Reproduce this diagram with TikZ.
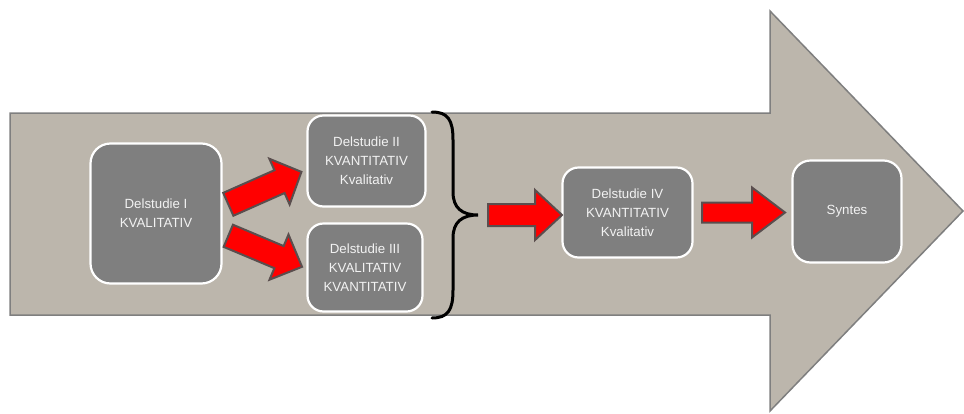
\documentclass[tikz,border=0pt]{standalone}
\usepackage{fontspec}
\setmainfont{Liberation Sans}
\definecolor{bigfill}{HTML}{BCB6AC}
\definecolor{bigedge}{HTML}{7F7F7F}
\definecolor{boxgray}{HTML}{7F7F7F}
\definecolor{boxtext}{HTML}{F2F2F2}
\definecolor{arrowedge}{HTML}{5A4E4E}
\newcommand{\blockarrow}[7]{%
  \begin{scope}[shift={(#1,#2)}, rotate=#3]
    \draw[redarr] (0,-#5/2) -- (#4-#7,-#5/2) -- (#4-#7,-#6/2) -- (#4,0)
      -- (#4-#7,#6/2) -- (#4-#7,#5/2) -- (0,#5/2) -- cycle;
  \end{scope}}
\begin{document}
\begin{tikzpicture}[x=1pt,y=-1pt,
  box/.style={draw=white, line width=2.2pt, fill=boxgray, rounded corners=16pt,
    text=boxtext, align=center, font=\fontsize{13.3}{19}\selectfont, inner sep=0pt},
  redarr/.style={fill=red, draw=arrowedge, line width=2pt, line join=miter},
  bigarrow/.style={fill=bigfill, draw=bigedge, line width=1.5pt, line join=miter},
  bracestyle/.style={draw=black, line width=3pt, line cap=round}]
\useasboundingbox (0,0) rectangle (964,413);
% large background arrow
\path[bigarrow] (10,113) -- (770,113) -- (770,11) -- (963,211) -- (770,411)
  -- (770,315) -- (10,315) -- cycle;
% boxes
\node[box, minimum width=131pt, minimum height=140pt, rounded corners=20pt] (d1) at (156,213.5) {Delstudie I\\KVALITATIV};
\node[box, minimum width=118pt, minimum height=91pt] (d2) at (366.5,161) {Delstudie II\\KVANTITATIV\\Kvalitativ};
\node[box, minimum width=115pt, minimum height=88pt] (d3) at (365,267.5) {Delstudie III\\KVALITATIV\\KVANTITATIV};
\node[box, minimum width=130pt, minimum height=90pt] (d4) at (627.5,212.5) {Delstudie IV\\KVANTITATIV\\Kvalitativ};
\node[box, minimum width=109pt, minimum height=102pt, rounded corners=18pt] (syn) at (847,211.5) {Syntes};
% brace
\coordinate (btop) at (432,112);
\coordinate (btip) at (478,215);
\coordinate (bbot) at (432,318);
\draw[bracestyle] (btop) .. controls (448,112) and (453,120) .. (453,140)
  -- (453,192) .. controls (453,208) and (462,215) .. (btip)
  .. controls (462,215) and (453,222) .. (453,238)
  -- (453,290) .. controls (453,310) and (448,318) .. (bbot);
% red block arrows
\blockarrow{228.3}{204.3}{23.9}{80}{25}{50}{24}
\blockarrow{228.3}{235.8}{-22.8}{80}{24}{49}{25}
\blockarrow{488}{215}{0}{74}{22}{50}{27}
\blockarrow{702}{212.5}{0}{83}{20}{50}{33}
\end{tikzpicture}
\end{document}
